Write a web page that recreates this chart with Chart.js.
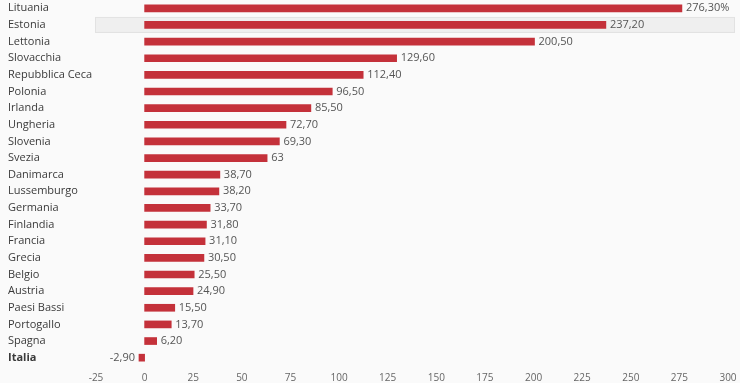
<!DOCTYPE html>
<html>
<head>
<meta charset="utf-8">
<script src="https://cdn.jsdelivr.net/npm/chart.js@4"></script>
<style>
  html, body { margin: 0; padding: 0; background: #fafafa; }
  #wrap { width: 740px; height: 383px; }
</style>
</head>
<body>
<div id="wrap"><canvas id="chart"></canvas></div>
<script>
// chart data
const countries = ['Lituania', 'Estonia', 'Lettonia', 'Slovacchia', 'Repubblica Ceca', 'Polonia', 'Irlanda',
  'Ungheria', 'Slovenia', 'Svezia', 'Danimarca', 'Lussemburgo', 'Germania', 'Finlandia', 'Francia',
  'Grecia', 'Belgio', 'Austria', 'Paesi Bassi', 'Portogallo', 'Spagna', 'Italia'];
const values = [276.3, 237.2, 200.5, 129.6, 112.4, 96.5, 85.5, 72.7, 69.3, 63, 38.7, 38.2, 33.7, 31.8,
  31.1, 30.5, 25.5, 24.9, 15.5, 13.7, 6.2, -2.9];
const xTicks = [-25, 0, 25, 50, 75, 100, 125, 150, 175, 200, 225, 250, 275, 300];
const highlighted = 'Estonia';
const boldLabel = 'Italia';

const FONT = '"Open Sans", "Noto Sans", sans-serif';

function fmt(v, i) {
  let s = Number.isInteger(v) ? String(v) : v.toFixed(2).replace('.', ',');
  if (i === 0) s += '%';
  return s;
}

// light grey band behind the highlighted row
const rowHighlight = {
  id: 'rowHighlight',
  beforeDatasetsDraw(chart) {
    const idx = countries.indexOf(highlighted);
    if (idx < 0) return;
    const { ctx, chartArea, scales } = chart;
    const y = scales.y.getPixelForValue(idx);
    ctx.save();
    ctx.fillStyle = '#efefef';
    ctx.strokeStyle = '#e2e2e2';
    ctx.lineWidth = 1;
    ctx.fillRect(chartArea.left - 1, y - 8, chartArea.right - chartArea.left + 8, 16);
    ctx.strokeRect(chartArea.left - 0.5, y - 7.5, chartArea.right - chartArea.left + 7, 15);
    ctx.restore();
  }
};

// value labels at the end of each bar
const valueLabels = {
  id: 'valueLabels',
  afterDatasetsDraw(chart) {
    const { ctx } = chart;
    const meta = chart.getDatasetMeta(0);
    ctx.save();
    ctx.font = '11px ' + FONT;
    ctx.fillStyle = '#555';
    ctx.textBaseline = 'middle';
    meta.data.forEach((bar, i) => {
      const v = values[i];
      if (v < 0) {
        ctx.textAlign = 'right';
        ctx.fillText(fmt(v, i), bar.x - 4, bar.y);
      } else {
        ctx.textAlign = 'left';
        ctx.fillText(fmt(v, i), bar.x + 4, bar.y);
      }
    });
    ctx.restore();
  }
};

new Chart(document.getElementById('chart'), {
  type: 'bar',
  data: {
    labels: countries,
    datasets: [{
      data: values,
      backgroundColor: 'rgb(196, 49, 58)',
      barThickness: 7,
      borderWidth: 0
    }]
  },
  options: {
    indexAxis: 'y',
    responsive: true,
    maintainAspectRatio: false,
    animation: false,
    layout: { padding: { left: 8, right: 12, top: 0, bottom: 0 } },
    plugins: {
      legend: { display: false },
      tooltip: { enabled: false }
    },
    scales: {
      x: {
        min: -25,
        max: 300,
        afterBuildTicks(axis) { axis.ticks = xTicks.map(v => ({ value: v })); },
        afterFit(axis) { axis.paddingLeft = 0; axis.paddingRight = 0; axis.height = 17; },
        grid: { display: false, drawTicks: false },
        border: { display: false },
        ticks: {
          padding: 6,
          color: '#666',
          font: { family: FONT, size: 10 }
        }
      },
      y: {
        grid: { display: false, drawTicks: false },
        border: { display: false },
        afterFit(axis) { axis.width = 88; axis.paddingTop = 0; axis.paddingBottom = 0; },
        ticks: {
          autoSkip: false,
          crossAlign: 'far',
          padding: 0,
          color: '#3a3a3a',
          font: (c) => ({
            family: FONT,
            size: 11,
            weight: countries[c.index] === boldLabel ? 'bold' : 'normal'
          })
        }
      }
    }
  },
  plugins: [rowHighlight, valueLabels]
});
</script>
</body>
</html>
